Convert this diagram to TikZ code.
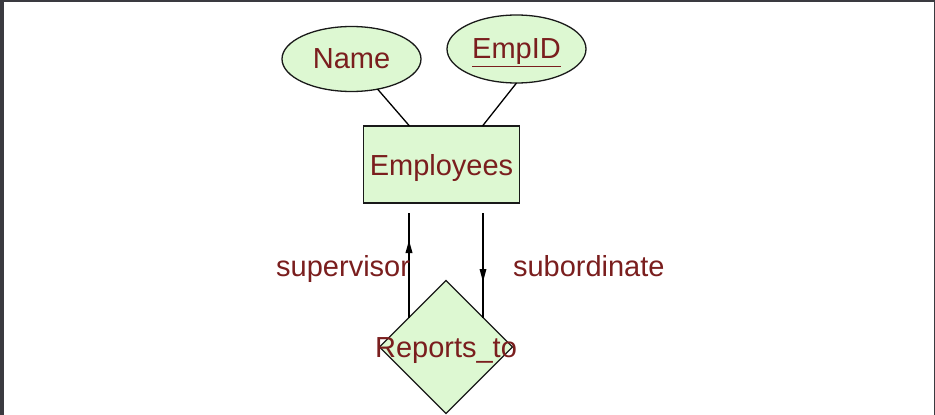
\documentclass[tikz,border=0pt]{standalone}
\usepackage{fontspec}
\setmainfont{Liberation Sans}
\usetikzlibrary{arrows.meta, calc, shapes.geometric}
\definecolor{erfill}{RGB}{221,248,210}
\definecolor{ertext}{RGB}{122,30,30}
\definecolor{frame}{RGB}{58,58,64}

\begin{document}
\begin{tikzpicture}[x=1pt,y=-1pt,
   every node/.style={outer sep=0,inner sep=0,text=ertext,
      font=\fontsize{29}{34}\selectfont},
   attrib/.style={ellipse,draw=black!90,line width=1.3pt,fill=erfill},
   entity/.style={rectangle,draw=black!90,line width=1.5pt,fill=erfill},
   relation/.style={diamond,draw=black!90,line width=1.2pt,fill=erfill,
      minimum width=133pt,minimum height=133pt},
   tip/.style={-{Triangle[length=13pt,width=6.5pt]}}]
   \useasboundingbox (0,0) rectangle (935,415);
   % screen frame
   \fill[frame] (0,0) rectangle (4,415);
   \fill[frame] (0,0) rectangle (935,1.5);
   \fill[frame] (933.5,0) rectangle (935,415);

   \node[attrib,minimum width=139pt,minimum height=65pt] (Name) at (351.5,59)
   {Name};
   \node[attrib,minimum width=139pt,minimum height=68pt,text depth=0pt]
   (EmpID) at (516.5,49) {\underline{EmpID}};
   \node[entity,minimum width=156pt,minimum height=77pt,text depth=0pt]
   (Employees) at (441.5,164.5) {Employees};

   \draw[line width=1.3pt] (Name) -- ($(Employees.north)+(-32,0)$);
   \draw[line width=1.3pt] (EmpID.south) -- ($(Employees.north)+(41,0)$);

   \node[relation] (Reports) at (446,347) {};

   \coordinate (supBot) at ($(Reports.center)+(-37,-29)$);
   \coordinate (subBot) at ($(Reports.center)+(37,-29)$);
   \coordinate (supTop) at ($(supBot |- Employees.south)+(0,10)$);
   \coordinate (subTop) at ($(subBot |- Employees.south)+(0,10)$);

   \draw[line width=2pt] (supBot) -- (supTop);
   \draw[line width=2pt,tip] (supBot) -- ($(supTop)+(0,27)$);
   \draw[line width=1.6pt] (subTop) -- (subBot);
   \draw[line width=1.6pt,tip] (subTop) -- ($(subTop)+(0,69)$);

   \node[anchor=base east] (supLabel) at ($(supTop)!0.5!(supBot)+(1,11)$)
   {supervisor};
   \node[anchor=base west] (subLabel) at ($(subTop)!0.5!(subBot)+(30,11)$)
   {subordinate};
   \node[anchor=base] (RepLabel) at ($(Reports.center)+(0,10)$)
   {Reports\_to};

\end{tikzpicture}
\end{document}
